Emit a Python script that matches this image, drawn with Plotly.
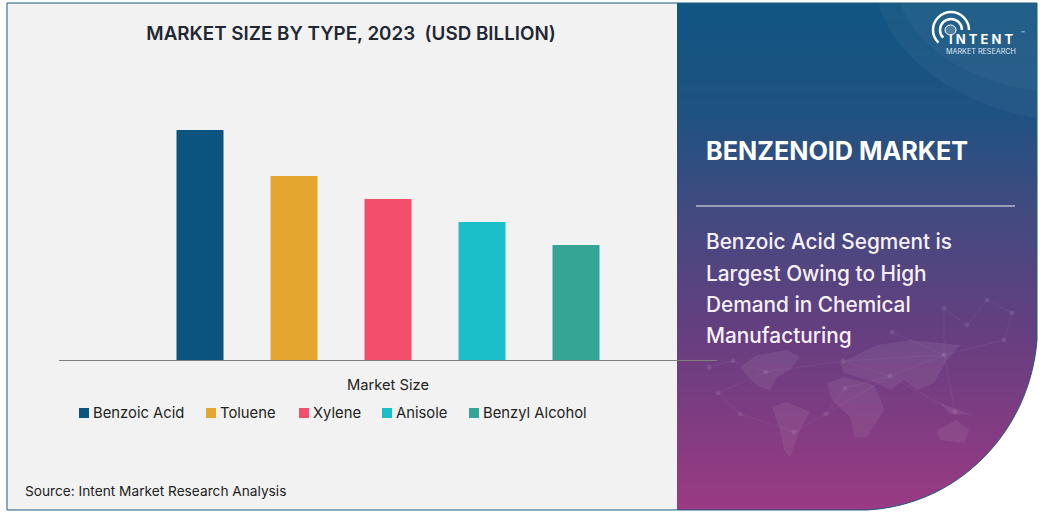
import plotly.graph_objects as go

# Values (no value axis in the source, so the scale is an estimate)
types = ["Benzoic Acid", "Toluene", "Xylene", "Anisole", "Benzyl Alcohol"]
market_size = [5.0, 4.0, 3.5, 3.0, 2.5]
bar_colors = ["#0b5480", "#e3a72f", "#f44f6a", "#1bbfca", "#35a596"]
legend_swatch_x = [79, 206, 299, 382, 469]
headline_lines = ["Benzoic Acid Segment is", "Largest Owing to High",
                  "Demand in Chemical", "Manufacturing"]
headline_y = [241, 273, 304, 335]

W, H = 1043, 513
FONT = "Inter"

def fx(x):
    return x / W

def fy(y):
    return 1 - y / H

def svg(points, close=True):
    d = "M" + " L".join(f"{fx(x):.5f},{fy(y):.5f}" for x, y in points)
    return d + (" Z" if close else "")

def curve(p0, c1, c2, p1):
    # single cubic in pixel coordinates
    pts = [p0, c1, c2, p1]
    s = [f"{fx(x):.5f},{fy(y):.5f}" for x, y in pts]
    return f"M{s[0]} C{s[1]} {s[2]} {s[3]}"

def label(text, x, y, size, color="#222222", weight=400, anchor="left"):
    return dict(text=text, x=fx(x), y=fy(y), xref="paper", yref="paper", xanchor=anchor,
                yanchor="middle", showarrow=False, align="left",
                font=dict(family=FONT, size=size, color=color, weight=weight))

shapes = []
shapes.append(dict(type="rect", xref="paper", yref="paper", x0=fx(7), x1=fx(678), y0=fy(3), y1=fy(510),
                   fillcolor="#f2f2f2", line_width=0, layer="below"))

# Right panel gradient, blue at the top to magenta at the bottom
stops = [(3, (17, 85, 130)), (110, (30, 82, 130)), (200, (63, 75, 128)),
         (340, (104, 62, 128)), (510, (155, 58, 131))]
def grad(y):
    for (y0, c0), (y1, c1) in zip(stops, stops[1:]):
        if y <= y1:
            t = (y - y0) / (y1 - y0)
            return "rgb(%d,%d,%d)" % tuple(round(a + (b - a) * t) for a, b in zip(c0, c1))
    return "rgb(155,58,131)"

for y in range(3, 510, 3):
    shapes.append(dict(type="rect", xref="paper", yref="paper", x0=fx(677), x1=fx(1037),
                       y0=fy(y), y1=fy(min(y + 4, 510)), fillcolor=grad(y), line_width=0, layer="below"))

# Lighter swoosh behind the logo, fading towards its lower edge
swoosh = curve((878, 3), (895, 60), (960, 105), (1037, 118)) + f" L{fx(1037):.5f},{fy(3):.5f} Z"
swoosh2 = curve((900, 3), (915, 45), (970, 85), (1037, 90)) + f" L{fx(1037):.5f},{fy(3):.5f} Z"
for path, alpha in [(swoosh, 0.04), (swoosh2, 0.03)]:
    shapes.append(dict(type="path", path=path, xref="paper", yref="paper",
                       fillcolor=f"rgba(255,255,255,{alpha})", line_width=0, layer="below"))

# Faint world map
continents = [
    [(740, 367), (757, 355), (787, 350), (800, 357), (790, 370), (777, 377), (770, 390), (759, 387), (749, 378)],
    [(772, 407), (787, 402), (810, 412), (800, 430), (790, 457), (784, 450), (780, 430)],
    [(827, 383), (844, 377), (874, 385), (880, 398), (884, 410), (867, 437), (855, 438), (850, 417), (832, 400)],
    [(840, 363), (877, 345), (910, 340), (960, 345), (947, 360), (934, 383), (917, 390), (904, 380), (890, 390), (877, 383), (844, 373)],
    [(937, 430), (957, 420), (969, 430), (964, 443), (940, 440)],
    [(940, 403), (960, 410), (972, 415), (950, 414)],
]
for c in continents:
    shapes.append(dict(type="path", path=svg(c), xref="paper", yref="paper",
                       fillcolor="rgba(255,255,255,0.07)", line_width=0, layer="below"))

nodes = [(718, 393), (740, 414), (826, 414), (794, 432), (766, 372), (890, 376), (845, 388),
         (955, 412), (944, 355), (1004, 340), (1012, 313), (987, 300), (967, 325), (944, 308),
         (709, 367), (733, 361), (843, 361), (892, 332)]
links = [(0, 4), (0, 1), (1, 3), (3, 2), (2, 6), (6, 5), (5, 8), (8, 9), (9, 10), (10, 11), (11, 12),
         (12, 13), (13, 8), (5, 7), (7, 8), (14, 15), (15, 4), (16, 5), (16, 8), (17, 8), (2, 5), (4, 16)]
for a, b in links:
    (x0, y0), (x1, y1) = nodes[a], nodes[b]
    shapes.append(dict(type="line", xref="paper", yref="paper", x0=fx(x0), y0=fy(y0), x1=fx(x1), y1=fy(y1),
                       line=dict(color="rgba(255,255,255,0.05)", width=1), layer="below"))
for x, y in nodes:
    shapes.append(dict(type="circle", xref="paper", yref="paper", x0=fx(x - 2.5), x1=fx(x + 2.5),
                       y0=fy(y - 2.5), y1=fy(y + 2.5), fillcolor="rgba(255,255,255,0.09)",
                       line_width=0, layer="below"))

# Rounded bottom right corner and outline
p0, c1, c2, p1 = (1037, 340), (1030, 430), (960, 505), (867, 510)
corner = curve(p0, c1, c2, p1) + f" L{fx(867):.5f},{fy(513):.5f} L{fx(1043):.5f},{fy(513):.5f} L{fx(1043):.5f},{fy(340):.5f} Z"
shapes.append(dict(type="path", path=corner, xref="paper", yref="paper",
                   fillcolor="white", line_width=0, layer="below"))
outline = svg([(867, 510), (7, 510), (7, 3), (1037, 3), (1037, 340)], close=False) + " " + curve(p0, c1, c2, p1)
shapes.append(dict(type="path", path=outline, xref="paper", yref="paper",
                   fillcolor="rgba(0,0,0,0)", line=dict(color="#1d5a82", width=1), layer="below"))

# Divider on the right panel
shapes.append(dict(type="line", xref="paper", yref="paper", x0=fx(696), x1=fx(1015), y0=fy(206), y1=fy(206),
                   line=dict(color="#f0eef4", width=1), layer="below"))

# Logo rings, open towards the lower right
cx, cy = 951, 30
for r in [18, 11]:
    k = 0.5523 * r
    arc = (f"M{fx(cx + r):.5f},{fy(cy):.5f} C{fx(cx + r):.5f},{fy(cy - k):.5f} {fx(cx + k):.5f},{fy(cy - r):.5f} {fx(cx):.5f},{fy(cy - r):.5f}"
           f" C{fx(cx - k):.5f},{fy(cy - r):.5f} {fx(cx - r):.5f},{fy(cy - k):.5f} {fx(cx - r):.5f},{fy(cy):.5f}"
           f" C{fx(cx - r):.5f},{fy(cy + k * 0.6):.5f} {fx(cx - r * 0.9):.5f},{fy(cy + r * 0.5):.5f} {fx(cx - r * 0.7):.5f},{fy(cy + r * 0.7):.5f}")
    shapes.append(dict(type="path", path=arc, xref="paper", yref="paper",
                       fillcolor="rgba(0,0,0,0)", line=dict(color="white", width=2.5), layer="below"))
shapes.append(dict(type="circle", xref="paper", yref="paper", x0=fx(cx - 6), x1=fx(cx + 5), y0=fy(cy - 5), y1=fy(cy + 5),
                   fillcolor="rgba(255,255,255,0.2)", line=dict(color="white", width=1), layer="below"))

annotations = [
    label("Source: Intent Market Research Analysis", 23, 491, 13.7),
    label("BENZENOID MARKET", 704, 151, 25.2, "white", 700),
    label("I N T E N T", 947, 39.5, 13, "white", 700),
    label("MARKET RESEARCH", 944, 51.5, 7.2, "#dfe6f0", 400),
    label("™", 1019, 33, 6, "#dfe6f0", 400),
]
for line, y in zip(headline_lines, headline_y):
    annotations.append(label(line, 704, y, 20.8, "#f6f0f8", 500))

# Legend drawn by hand: the source has tight square swatches
for name, color, x in zip(types, bar_colors, legend_swatch_x):
    shapes.append(dict(type="rect", xref="paper", yref="paper", x0=fx(x), x1=fx(x + 10), y0=fy(408), y1=fy(418),
                       fillcolor=color, line_width=0))
    annotations.append(label(name, x + 12, 413, 14.8))

fig = go.Figure()
for name, value, color in zip(types, market_size, bar_colors):
    fig.add_trace(go.Bar(x=["Market Size"], y=[value], name=name, marker=dict(color=color, line_width=0)))

fig.update_layout(
    width=W, height=H,
    barmode="group", bargap=0.2857, bargroupgap=0.5,
    showlegend=False,
    paper_bgcolor="white", plot_bgcolor="rgba(0,0,0,0)",
    margin=dict(l=0, r=0, t=0, b=0),
    title=dict(text="MARKET SIZE BY TYPE, 2023  (USD BILLION)", x=351 / W, xanchor="center",
               y=fy(33), yanchor="middle", xref="paper", yref="paper",
               font=dict(family=FONT, size=18.8, color="#1f2733", weight=600)),
    shapes=shapes,
    annotations=annotations,
    font=dict(family=FONT),
)
fig.update_xaxes(domain=[fx(59), fx(717)], showline=True, linecolor="#7f7f7f", linewidth=1,
                 showgrid=False, ticks="outside", ticklen=11, tickcolor="rgba(0,0,0,0)",
                 tickfont=dict(family=FONT, size=14.7, color="#222222"), automargin=False)
fig.update_yaxes(domain=[fy(360), fy(84)], range=[0, 6], visible=False)

fig.write_html("out.html", config={"displayModeBar": False},
               post_script="document.body.style.margin='0';")
